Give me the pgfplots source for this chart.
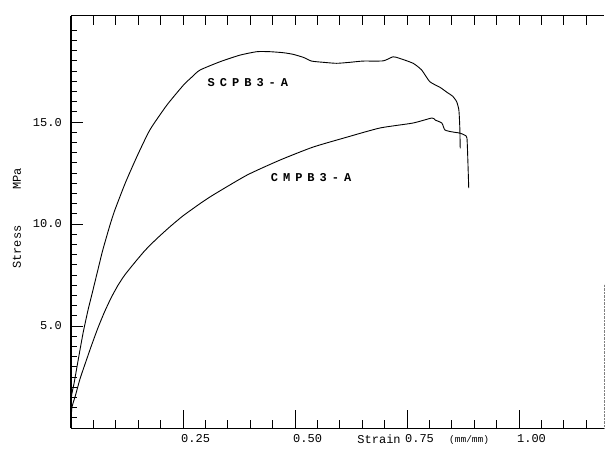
\documentclass[border=0pt]{standalone}
\usepackage{fontspec}
\setmonofont{Liberation Mono}
\usepackage{pgfplots}
\pgfplotsset{compat=1.18}
\newcommand\ls{\hspace{5pt}}
\begin{document}
\begin{tikzpicture}[font=\fontsize{12}{14}\selectfont\ttfamily]
\useasboundingbox (-71pt,-24pt) rectangle (534pt,428pt);
\pgfplotsset{common/.style={at={(0pt,0pt)}, anchor=south west, scale only axis,
  width=533pt, height=412pt, xmin=0, xmax=1.19, ymin=0, ymax=20.2,
  tick align=inside, axis line style={draw=none},
  tick style={black, line width=0.8pt},
  ticklabel style={font=\fontsize{12}{14}\selectfont\ttfamily}}}
% top ticks
\begin{axis}[common, xtick={0.05,0.1,...,1.16}, xticklabels=\empty, scaled x ticks=false,
  xticklabel style={text opacity=0, opacity=0}, xtick pos=top,
  ytick=\empty, major tick length=9pt]
\end{axis}
% left ticks
\begin{axis}[common, xtick=\empty, ytick={5,10,15}, yticklabels={5.0,10.0,15.0},
  minor ytick={0.5,1,...,19.6}, ytick pos=left, major tick length=12pt, minor tick length=6pt,
  yticklabel style={anchor=east, inner sep=0pt, xshift=-9pt}]
\end{axis}
% main
\begin{axis}[common, xtick={0.25,0.5,0.75,1}, xticklabels={0.25,0.50,0.75,1.00},
  minor xtick={0.05,0.1,...,1.16}, xtick pos=bottom, ytick=\empty,
  major tick length=18pt, minor tick length=8pt,
  xticklabel style={anchor=base west, inner sep=0pt, xshift=-2pt, yshift=-14pt},
  clip=false]
\draw[line width=1.2pt] (rel axis cs:0,0) -- (rel axis cs:0,1);
\draw[line width=1pt] (rel axis cs:0,1) -- (rel axis cs:1,1);
\draw[line width=0.7pt] (rel axis cs:0,0) -- (rel axis cs:1,0);
\draw[gray, densely dotted] (rel axis cs:1,0) -- (rel axis cs:1,0.35);
% SCPB3-A
\addplot[black, line width=0.9pt, line join=round, smooth, tension=0.35] coordinates {
(0,0.2) (0.001,1.53) (0.007,2.21) (0.016,3.33) (0.027,4.66) (0.038,5.78)
(0.049,6.76) (0.060,7.75) (0.071,8.73) (0.087,9.95) (0.098,10.69)
(0.121,12.00) (0.147,13.30) (0.176,14.61) (0.214,15.83) (0.251,16.81)
(0.270,17.21) (0.288,17.55) (0.333,17.96) (0.377,18.28) (0.415,18.45)
(0.444,18.45) (0.474,18.40) (0.496,18.32) (0.519,18.17) (0.537,17.99)
(0.563,17.93) (0.593,17.88) (0.623,17.93) (0.652,17.99) (0.697,18.00)
(0.719,18.20) (0.734,18.12) (0.764,17.88) (0.783,17.55) (0.801,16.98)
(0.824,16.70) (0.840,16.45) (0.852,16.27) (0.861,16.00) (0.866,15.59)
(0.868,14.77) (0.869,13.71)};
% CMPB3-A
\addplot[black, line width=0.9pt, line join=round, smooth, tension=0.35] coordinates {
(0,0.2) (0.002,1.0) (0.010,1.6) (0.020,2.4) (0.030,3.05) (0.045,4.0)
(0.060,4.9) (0.075,5.7) (0.090,6.4) (0.105,7.0) (0.120,7.5) (0.140,8.05)
(0.165,8.7) (0.190,9.25) (0.220,9.85) (0.250,10.4) (0.288,11.00)
(0.317,11.42) (0.393,12.40) (0.467,13.14) (0.540,13.77)
(0.616,14.26) (0.690,14.71) (0.763,14.95) (0.806,15.20) (0.813,15.10)
(0.828,14.95) (0.835,14.61) (0.853,14.51) (0.868,14.46) (0.879,14.36)
(0.884,14.22) (0.886,13.14) (0.888,11.76)};
\node[font=\fontsize{12}{14}\selectfont\ttfamily\bfseries] at (axis cs:0.395,16.96) {S\ls C\ls P\ls B\ls 3\ls -\ls A};
\node[font=\fontsize{12}{14}\selectfont\ttfamily\bfseries] at (axis cs:0.536,12.30) {C\ls M\ls P\ls B\ls 3\ls -\ls A};
\node[anchor=base] at ([yshift=-16pt]rel axis cs:0.578,0) {Strain};
\node[anchor=base, font=\fontsize{9.5}{11}\selectfont\ttfamily] at ([yshift=-14.5pt]rel axis cs:0.747,0) {(mm/mm)};
\node[rotate=90] at ([xshift=-54pt]rel axis cs:0,0.439) {Stress};
\node[rotate=90] at ([xshift=-54pt]rel axis cs:0,0.604) {MPa};
\end{axis}
\end{tikzpicture}
\end{document}
